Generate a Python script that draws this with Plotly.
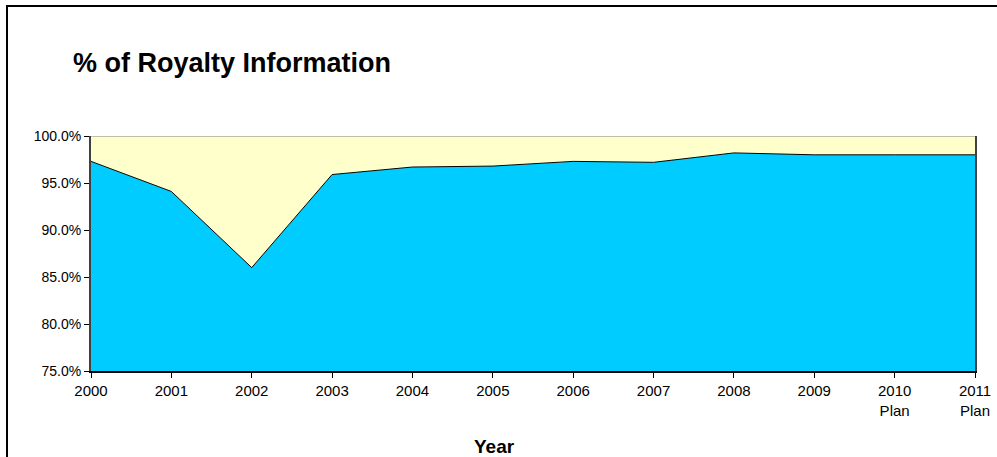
import plotly.graph_objects as go

years = ["2000", "2001", "2002", "2003", "2004", "2005", "2006", "2007", "2008", "2009", "2010", "2011"]
tick_labels = ["2000", "2001", "2002", "2003", "2004", "2005", "2006", "2007", "2008", "2009", "2010<br>Plan", "2011<br>Plan"]
royalty_pct = [97.3, 94.1, 86.0, 95.9, 96.7, 96.8, 97.3, 97.2, 98.2, 98.0, 98.0, 98.0]
remainder_pct = [100 - v for v in royalty_pct]

W, H = 997, 457
L, R, T, B = 91, 22, 136, 86
pw, ph = W - L - R, H - T - B

def px(x):
    return (x - L) / pw

def py(y):
    return (H - B - y) / ph

fig = go.Figure()
fig.add_trace(go.Scatter(
    x=years, y=royalty_pct, stackgroup="one",
    mode="lines", line=dict(color="black", width=1),
    fillcolor="#00CCFF", hoverinfo="skip", showlegend=False,
))
fig.add_trace(go.Scatter(
    x=years, y=remainder_pct, stackgroup="one",
    mode="lines", line=dict(color="#808080", width=1),
    fillcolor="#FFFFCC", hoverinfo="skip", showlegend=False,
))

font_family = "Liberation Sans, Arial, sans-serif"

fig.update_layout(
    width=W, height=H,
    margin=dict(l=L, r=R, t=T, b=B, pad=0, autoexpand=False),
    paper_bgcolor="white", plot_bgcolor="white",
    font=dict(family=font_family, color="black", size=14),
    showlegend=False,
    annotations=[
        dict(text="<b>% of Royalty Information</b>", xref="paper", yref="paper",
             x=px(71), y=py(63), xanchor="left", yanchor="middle",
             showarrow=False, font=dict(size=27, family=font_family, color="black")),
        dict(text="<b>Year</b>", xref="paper", yref="paper",
             x=px(494), y=py(446), xanchor="center", yanchor="middle",
             showarrow=False, font=dict(size=19, family=font_family, color="black")),
    ],
    shapes=[
        dict(type="line", xref="paper", yref="paper", x0=px(7), x1=px(7), y0=py(5), y1=py(460),
             line=dict(color="black", width=2)),
        dict(type="line", xref="paper", yref="paper", x0=px(6), x1=px(1000), y0=py(6), y1=py(6),
             line=dict(color="black", width=2)),
    ],
)

fig.update_xaxes(
    type="category", categoryorder="array", categoryarray=years,
    range=[0, len(years) - 1],
    tickmode="array", tickvals=years, ticktext=tick_labels,
    ticks="outside", ticklen=5, tickcolor="black", tickwidth=1,
    showline=True, linecolor="black", linewidth=2, mirror=False,
    showgrid=False, zeroline=False, automargin=False,
    tickfont=dict(size=15, family=font_family, color="black"),
)
fig.update_yaxes(
    range=[75, 100], dtick=5, tickformat=".1f", ticksuffix="%",
    ticks="outside", ticklen=5, tickcolor="black", tickwidth=1,
    showline=True, linecolor="#404040", linewidth=2, mirror=True,
    showgrid=False, zeroline=False, automargin=False,
    tickfont=dict(size=14, family=font_family, color="black"),
)

fig.write_html(
    "out.html",
    config={"displayModeBar": False},
    post_script="document.body.style.margin='0';document.body.style.overflow='hidden';",
)
